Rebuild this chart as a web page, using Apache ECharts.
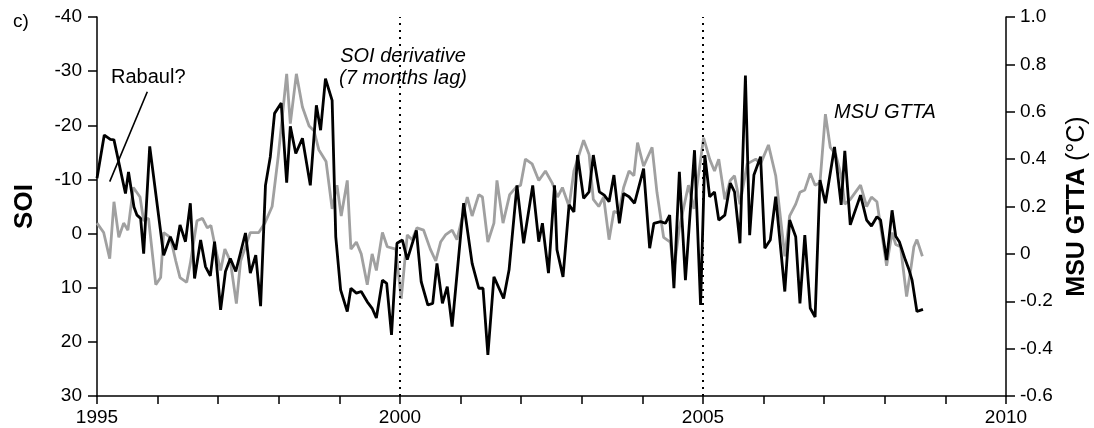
<!DOCTYPE html>
<html>
<head>
<meta charset="utf-8">
<script src="https://cdn.jsdelivr.net/npm/echarts@6/dist/echarts.min.js"></script>
<style>
html,body{margin:0;padding:0;background:#fff;overflow:hidden;}
#chart{width:1094px;height:428px;}
</style>
</head>
<body>
<div id="chart"></div>
<script>
// SOI derivative (7 months lag), left axis (inverted)
const soiYears = [1995.00,1995.12,1995.22,1995.28,1995.47,1995.52,1995.61,1995.66,1995.72,1995.77,1995.87,1996.10,1996.21,1996.30,1996.37,1996.46,1996.54,1996.61,1996.71,1996.79,1996.87,1996.94,1997.04,1997.12,1997.20,1997.29,1997.45,1997.53,1997.62,1997.70,1997.78,1997.86,1997.93,1998.04,1998.13,1998.19,1998.28,1998.39,1998.52,1998.62,1998.69,1998.77,1998.88,1998.94,1999.02,1999.13,1999.19,1999.28,1999.36,1999.46,1999.54,1999.61,1999.71,1999.78,1999.86,1999.95,2000.04,2000.12,2000.27,2000.35,2000.46,2000.54,2000.61,2000.70,2000.78,2000.86,2001.05,2001.19,2001.30,2001.37,2001.45,2001.55,2001.71,2001.80,2001.93,2002.04,2002.19,2002.29,2002.35,2002.45,2002.55,2002.59,2002.69,2002.79,2002.87,2002.93,2003.03,2003.12,2003.19,2003.29,2003.37,2003.45,2003.53,2003.62,2003.69,2003.78,2003.87,2004.02,2004.12,2004.19,2004.30,2004.38,2004.45,2004.52,2004.61,2004.71,2004.86,2004.96,2005.03,2005.11,2005.19,2005.26,2005.36,2005.45,2005.52,2005.61,2005.70,2005.77,2005.84,2005.95,2006.02,2006.11,2006.20,2006.35,2006.43,2006.53,2006.60,2006.68,2006.77,2006.85,2006.93,2007.02,2007.17,2007.28,2007.34,2007.43,2007.60,2007.70,2007.78,2007.87,2007.93,2008.03,2008.12,2008.18,2008.24,2008.34,2008.40,2008.45,2008.53,2008.63];
const soiValues = [-10.2,-18.2,-17.4,-17.3,-7.4,-11.4,-4.9,-3.4,-2.8,3.7,-16.1,4.0,0.6,3.0,-1.6,1.5,-5.6,8.3,1.2,6.1,7.8,1.5,14.1,7.0,4.6,7.0,-0.1,7.3,4.0,13.4,-8.9,-14.2,-22.2,-24.1,-9.4,-19.8,-14.8,-17.6,-8.9,-23.7,-19.1,-28.6,-24.6,0.6,10.4,14.4,10.1,11.0,10.7,12.6,13.8,15.6,8.6,9.2,18.7,1.8,1.2,4.8,-0.6,8.9,13.2,12.9,5.5,12.9,9.8,17.2,-5.6,5.5,10.1,10.1,22.4,8.0,12.0,6.7,-8.9,1.8,-8.9,1.5,-1.9,7.3,-8.9,3.0,8.0,-5.3,-4.0,-14.5,-6.5,-7.7,-14.5,-7.7,-7.1,-5.9,-10.8,-1.9,-7.4,-6.8,-5.6,-12.0,2.7,-1.9,-2.2,-1.9,-3.4,10.1,-11.4,8.6,-15.4,13.2,-14.5,-6.8,-7.7,-2.5,-3.4,-9.3,-7.7,1.8,-29.2,0.3,-10.8,-14.2,2.7,1.2,-6.8,10.7,-2.5,0.6,12.9,0.3,13.8,15.4,-9.9,-5.6,-16.0,-5.3,-15.3,-1.6,-7.1,-2.5,-1.4,-3.1,-2.5,4.9,-4.3,0.5,1.5,4.9,6.7,8.6,14.4,14.0];

// MSU GTTA (°C), right axis
const gttaYears = [1995.00,1995.11,1995.21,1995.28,1995.36,1995.44,1995.51,1995.60,1995.71,1995.77,1995.85,1995.97,1996.05,1996.10,1996.21,1996.30,1996.37,1996.48,1996.54,1996.65,1996.74,1996.82,1996.88,1996.95,1997.04,1997.11,1997.20,1997.30,1997.37,1997.45,1997.53,1997.67,1997.77,1997.89,1997.99,1998.13,1998.19,1998.29,1998.39,1998.50,1998.58,1998.66,1998.78,1998.88,1998.96,1999.03,1999.13,1999.19,1999.28,1999.36,1999.46,1999.54,1999.61,1999.71,1999.79,1999.93,2000.02,2000.12,2000.20,2000.28,2000.39,2000.50,2000.59,2000.67,2000.75,2000.86,2000.94,2001.11,2001.19,2001.30,2001.36,2001.45,2001.55,2001.60,2001.70,2001.81,2001.91,2001.99,2002.07,2002.18,2002.29,2002.40,2002.51,2002.60,2002.68,2002.79,2002.87,2003.03,2003.12,2003.19,2003.28,2003.36,2003.45,2003.53,2003.61,2003.69,2003.78,2003.86,2003.92,2004.02,2004.16,2004.24,2004.35,2004.46,2004.52,2004.61,2004.76,2004.85,2005.01,2005.11,2005.19,2005.26,2005.36,2005.45,2005.52,2005.61,2005.73,2005.87,2005.95,2006.08,2006.20,2006.35,2006.43,2006.53,2006.60,2006.68,2006.77,2006.85,2006.93,2007.02,2007.10,2007.19,2007.28,2007.34,2007.43,2007.60,2007.70,2007.78,2007.87,2008.03,2008.12,2008.18,2008.26,2008.36,2008.42,2008.48,2008.53,2008.62];
const gttaValues = [0.13,0.09,-0.02,0.22,0.07,0.13,0.10,0.28,0.24,0.14,0.15,-0.13,-0.10,0.09,0.07,-0.03,-0.10,-0.12,-0.04,0.14,0.15,0.11,0.12,0.03,-0.07,0.02,-0.03,-0.21,-0.03,0.03,0.09,0.09,0.13,0.20,0.41,0.76,0.55,0.76,0.62,0.54,0.52,0.44,0.39,0.19,0.29,0.16,0.31,0.02,0.05,0.00,-0.13,0.00,-0.07,0.09,0.03,0.02,-0.19,0.08,0.06,0.11,0.10,0.02,-0.03,0.05,0.08,0.10,0.06,0.24,0.16,0.25,0.24,0.05,0.13,0.31,0.13,0.25,0.28,0.29,0.40,0.38,0.31,0.35,0.30,0.24,0.28,0.20,0.35,0.48,0.42,0.23,0.20,0.24,0.06,0.18,0.17,0.28,0.35,0.33,0.47,0.37,0.45,0.26,0.07,0.05,-0.07,0.11,0.29,0.19,0.49,0.40,0.35,0.40,0.23,0.31,0.33,0.21,0.38,0.40,0.38,0.46,0.33,-0.01,0.16,0.21,0.26,0.27,0.34,0.29,0.30,0.59,0.45,0.42,0.33,0.21,0.23,0.29,0.20,0.24,0.22,-0.05,0.09,0.04,0.03,-0.18,-0.08,0.03,0.06,-0.01];

const xTicks = [1995, 2010, 5];          // min, max, label interval
const soiAxis = [-40, 30, 10];
const gttaAxis = [-0.6, 1.0, 0.2];
const markYears = [2000, 2005];
// "Rabaul?" pointer, in data units (year, SOI)
const rabaulPointer = [[1995.83, -26.2], [1995.21, -9.6]];

const font = 'Liberation Sans, Arial, sans-serif';
const chart = echarts.init(document.getElementById('chart'), null, {renderer: 'canvas'});

const option = {
  backgroundColor: '#fff',
  animation: false,
  grid: {left: 97, right: 88, top: 17, bottom: 32, containLabel: false, outerBoundsMode: 'none'},
  xAxis: {
    type: 'value', min: xTicks[0], max: xTicks[1], interval: xTicks[2],
    axisLine: {show: true, onZero: false, lineStyle: {color: '#000', width: 1.5}},
    axisTick: {show: true, length: 8, lineStyle: {color: '#000', width: 1.5}},
    minorTick: {show: true, splitNumber: 5, length: 8, lineStyle: {color: '#000', width: 1.5}},
    axisLabel: {color: '#000', fontSize: 19, fontFamily: font, margin: 12, formatter: v => String(v)},
    splitLine: {show: false}
  },
  yAxis: [{
    type: 'value', inverse: true, min: soiAxis[0], max: soiAxis[1], interval: soiAxis[2],
    position: 'left',
    name: 'SOI', nameLocation: 'middle', nameRotate: 90, nameGap: 59,
    nameTextStyle: {color: '#000', fontSize: 26, fontWeight: 'bold', fontFamily: font},
    axisLine: {show: true, onZero: false, lineStyle: {color: '#000', width: 1.5}},
    axisTick: {show: true, length: 9, lineStyle: {color: '#000', width: 1.5}},
    axisLabel: {color: '#000', fontSize: 19, fontFamily: font, margin: 15},
    splitLine: {show: false}
  }, {
    type: 'value', min: gttaAxis[0], max: gttaAxis[1], interval: gttaAxis[2],
    position: 'right',
    name: '{b|MSU GTTA} {n|(°C)}', nameLocation: 'middle', nameRotate: 90, nameGap: 59,
    nameTextStyle: {color: '#000', fontSize: 25, fontFamily: font,
      rich: {b: {fontSize: 25, fontWeight: 'bold', fontFamily: font, color: '#000'},
             n: {fontSize: 25, fontFamily: font, color: '#000'}}},
    axisLine: {show: true, onZero: false, lineStyle: {color: '#000', width: 1.5}},
    axisTick: {show: true, length: 9, lineStyle: {color: '#000', width: 1.5}},
    axisLabel: {color: '#000', fontSize: 19, fontFamily: font, margin: 14,
      formatter: v => Math.abs(v) < 1e-9 ? '0' : v.toFixed(1)},
    splitLine: {show: false}
  }],
  series: [{
    name: 'MSU GTTA', type: 'line', yAxisIndex: 1,
    data: gttaYears.map((y, i) => [y, gttaValues[i]]),
    showSymbol: false, symbol: 'none',
    lineStyle: {color: '#a0a0a0', width: 2.8},
    z: 2,
    markLine: {
      silent: true, symbol: ['none', 'none'], label: {show: false},
      lineStyle: {color: '#000', type: [2, 5], width: 2},
      data: markYears.map(y => ({xAxis: y}))
    }
  }, {
    name: 'SOI derivative', type: 'line', yAxisIndex: 0,
    data: soiYears.map((y, i) => [y, soiValues[i]]),
    showSymbol: false, symbol: 'none',
    lineStyle: {color: '#000', width: 2.8},
    z: 3,
    markLine: {
      silent: true, symbol: ['none', 'none'], label: {show: false},
      lineStyle: {color: '#000', type: 'solid', width: 1.6},
      data: [[{coord: rabaulPointer[0]}, {coord: rabaulPointer[1]}]]
    }
  }],
  graphic: [
    {type: 'text', left: 13, top: 12, style: {text: 'c)', fontSize: 19, fontFamily: font, fill: '#000'}},
    {type: 'text', left: 111, top: 67, style: {text: 'Rabaul?', fontSize: 20, fontFamily: font, fill: '#000'}},
    {type: 'text', x: 403, y: 56, style: {text: 'SOI derivative', fontSize: 20, fontStyle: 'italic', fontFamily: font, fill: '#000', align: 'center', verticalAlign: 'middle'}},
    {type: 'text', x: 403, y: 78, style: {text: '(7 months lag)', fontSize: 20, fontStyle: 'italic', fontFamily: font, fill: '#000', align: 'center', verticalAlign: 'middle'}},
    {type: 'text', x: 834, y: 112, style: {text: 'MSU GTTA', fontSize: 20, fontStyle: 'italic', fontFamily: font, fill: '#000', align: 'left', verticalAlign: 'middle'}}
  ]
};
chart.setOption(option);
</script>
</body>
</html>
